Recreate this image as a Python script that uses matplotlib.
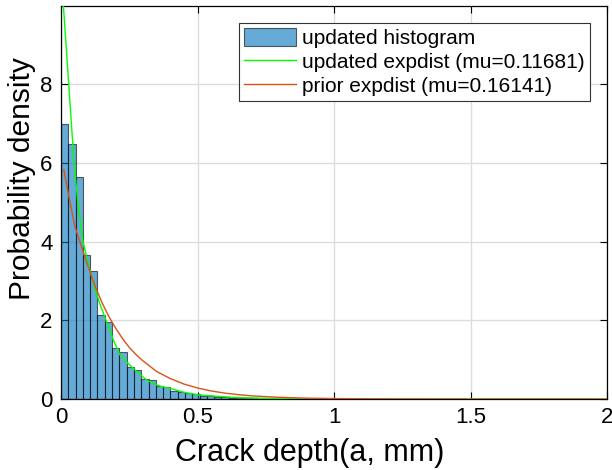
import numpy as np
import matplotlib.pyplot as plt

plt.rcParams['font.family'] = ['Liberation Sans', 'DejaVu Sans']

# histogram (bins start at 0)
bin_width = 0.0267
hist_heights = [6.99, 6.47, 5.63, 3.65, 3.25, 2.14, 1.95, 1.29, 1.19, 0.81,
                0.73, 0.50, 0.48, 0.34, 0.30, 0.20, 0.19, 0.145, 0.12, 0.085,
                0.065, 0.05, 0.04, 0.03, 0.025, 0.018, 0.014, 0.01, 0.008, 0.006]

# updated expdist curve
upd_x = [0.006, 0.0085, 0.028, 0.0475, 0.06, 0.08, 0.1, 0.12, 0.143, 0.165, 0.191,
         0.216, 0.264, 0.313, 0.362, 0.4, 0.45, 0.508, 0.65, 0.8, 1.0, 1.3, 1.6, 2.0]
upd_y = [10.3, 10.02, 8.02, 6.02, 5.1, 4.02, 3.42, 2.9, 2.40, 2.0, 1.51,
         1.12, 0.78, 0.485, 0.33, 0.27, 0.17, 0.10, 0.035, 0.012, 0.003, 0.0005, 0.0001, 0.0]

# prior expdist curve
pri_x = [0.01, 0.03, 0.05, 0.075, 0.1, 0.125, 0.15, 0.175, 0.2, 0.225, 0.25,
         0.275, 0.3, 0.35, 0.4, 0.45, 0.5, 0.55, 0.6, 0.65, 0.7, 0.8, 0.9,
         1.0, 1.2, 1.5, 2.0]
pri_y = [5.83, 5.1, 4.4, 3.87, 3.35, 2.86, 2.45, 2.095, 1.80, 1.537, 1.31,
         1.127, 0.97, 0.70, 0.52, 0.381, 0.28, 0.205, 0.15, 0.110, 0.08, 0.043, 0.023,
         0.012, 0.004, 0.0006, 0.0]

labels = ['updated histogram', 'updated expdist (mu=0.11681)', 'prior expdist (mu=0.16141)']

fig = plt.figure(figsize=(6.12, 4.70), dpi=100)
ax = fig.add_axes([0.0997, 0.151, 0.8925, 0.836])

edges = np.arange(len(hist_heights)) * bin_width
bars = ax.bar(edges, hist_heights, width=bin_width, align='edge',
              facecolor='#0072BD', alpha=0.6, edgecolor='black', linewidth=0.8,
              zorder=2)
l1, = ax.plot(upd_x, upd_y, color='#00FF00', lw=1.0, zorder=3)
l2, = ax.plot(pri_x, pri_y, color='#D95319', lw=1.0, zorder=3)

ax.set_xlim(0, 2)
ax.set_ylim(0, 9.98)
ax.set_xticks([0, 0.5, 1, 1.5, 2])
ax.set_xticklabels(['0', '0.5', '1', '1.5', '2'])
ax.set_yticks([0, 2, 4, 6, 8])
ax.grid(True, color='#dcdcdc', lw=1.0, zorder=0)
ax.set_axisbelow(True)
ax.tick_params(direction='in', top=True, right=True, labelsize=16, length=5,
               width=0.8, pad=6)
for s in ax.spines.values():
    s.set_linewidth(0.9)
ax.set_xlabel('Crack depth(a, mm)', fontsize=22)
ax.set_ylabel('Probability density', fontsize=21.5)
ax.xaxis.set_label_coords(0.456, -0.10)
ax.yaxis.set_label_coords(-0.045, 0.56)

leg = ax.legend([bars, l1, l2], labels, loc='upper right',
                bbox_to_anchor=(0.969, 0.957), borderaxespad=0,
                fontsize=15, fancybox=False, framealpha=1, edgecolor='#333333',
                handlelength=2.5, handleheight=0.9, labelspacing=0.2,
                handletextpad=0.3, borderpad=0.25)
leg.get_frame().set_linewidth(0.8)

fig.savefig('out.png', dpi=100)
